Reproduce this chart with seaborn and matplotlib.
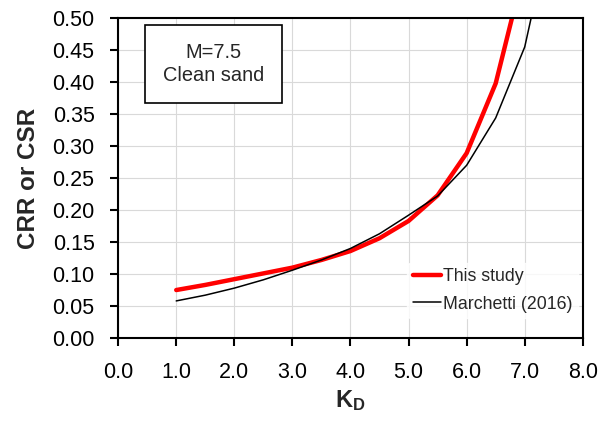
import pandas as pd
import matplotlib
matplotlib.use("Agg")
import matplotlib.pyplot as plt
import seaborn as sns
from matplotlib.lines import Line2D

# values
kd = [1.0, 1.5, 2.0, 2.5, 3.0, 3.5, 4.0, 4.5, 5.0, 5.5, 6.0, 6.5, 7.0, 7.5]
this_study = [0.075, 0.083, 0.092, 0.101, 0.110, 0.122, 0.136, 0.156, 0.183, 0.223, 0.289, 0.398, 0.58, None]
marchetti = [0.058, 0.067, 0.078, 0.091, 0.106, 0.122, 0.140, 0.163, 0.192, 0.222, 0.270, 0.344, 0.455, 0.66]
series = ["This study", "Marchetti (2016)"]

df = pd.DataFrame({
    "KD": kd * 2,
    "CRR": this_study + marchetti,
    "series": [series[0]] * len(kd) + [series[1]] * len(kd),
}).dropna()

sns.set_style("white")
plt.rcParams["font.family"] = ["Liberation Sans", "DejaVu Sans"]
plt.rcParams["mathtext.fontset"] = "custom"
plt.rcParams["mathtext.bf"] = "Liberation Sans:bold"
plt.rcParams["mathtext.rm"] = "Liberation Sans"

fig, ax = plt.subplots(figsize=(6.09, 4.22), dpi=100)
fig.subplots_adjust(left=0.194, right=0.957, top=0.957, bottom=0.199)

sns.lineplot(data=df, x="KD", y="CRR", hue="series", hue_order=series,
             palette=["#ff0000", "#000000"], sort=False, ax=ax, legend=False)
ax.lines[0].set_linewidth(3.2)
ax.lines[1].set_linewidth(1.1)

ax.set_xlim(0, 8)
ax.set_ylim(0, 0.5)
ax.set_xticks([i for i in range(9)])
ax.set_xticklabels([f"{i:.1f}" for i in range(9)])
ax.set_yticks([i * 0.05 for i in range(11)])
ax.set_yticklabels([f"{i * 0.05:.2f}" for i in range(11)])
ax.grid(True, color="#d9d9d9", linewidth=0.8)
for s in ax.spines.values():
    s.set_linewidth(1.5)
    s.set_color("black")
ax.tick_params(direction="out", length=6, width=1.5, labelsize=15.5,
               colors="black", left=True, bottom=True)
ax.tick_params(axis="y", pad=11)
ax.tick_params(axis="x", pad=11)

ax.set_xlabel(r"$\mathbf{K_D}$", fontsize=17, labelpad=4)
ax.set_ylabel("CRR or CSR", fontsize=17.5, fontweight="bold", labelpad=9)

ax.text(0.205, 0.856, "M=7.5\nClean sand", transform=ax.transAxes,
        fontsize=14.4, ha="center", va="center", linespacing=1.25,
        bbox=dict(boxstyle="square,pad=0.9", fc="white", ec="black", lw=1.2))

handles = [Line2D([], [], color="#ff0000", lw=3.2), Line2D([], [], color="black", lw=1.1)]
leg = ax.legend(handles, series, loc="lower right", bbox_to_anchor=(1.008, 0.035),
                frameon=True, fontsize=12.8, handlelength=1.6, handletextpad=0.1,
                borderpad=0.3, labelspacing=0.6)
leg.get_frame().set_edgecolor("white")
leg.get_frame().set_facecolor("white")

plt.savefig("out.png", dpi=100)
plt.close()
